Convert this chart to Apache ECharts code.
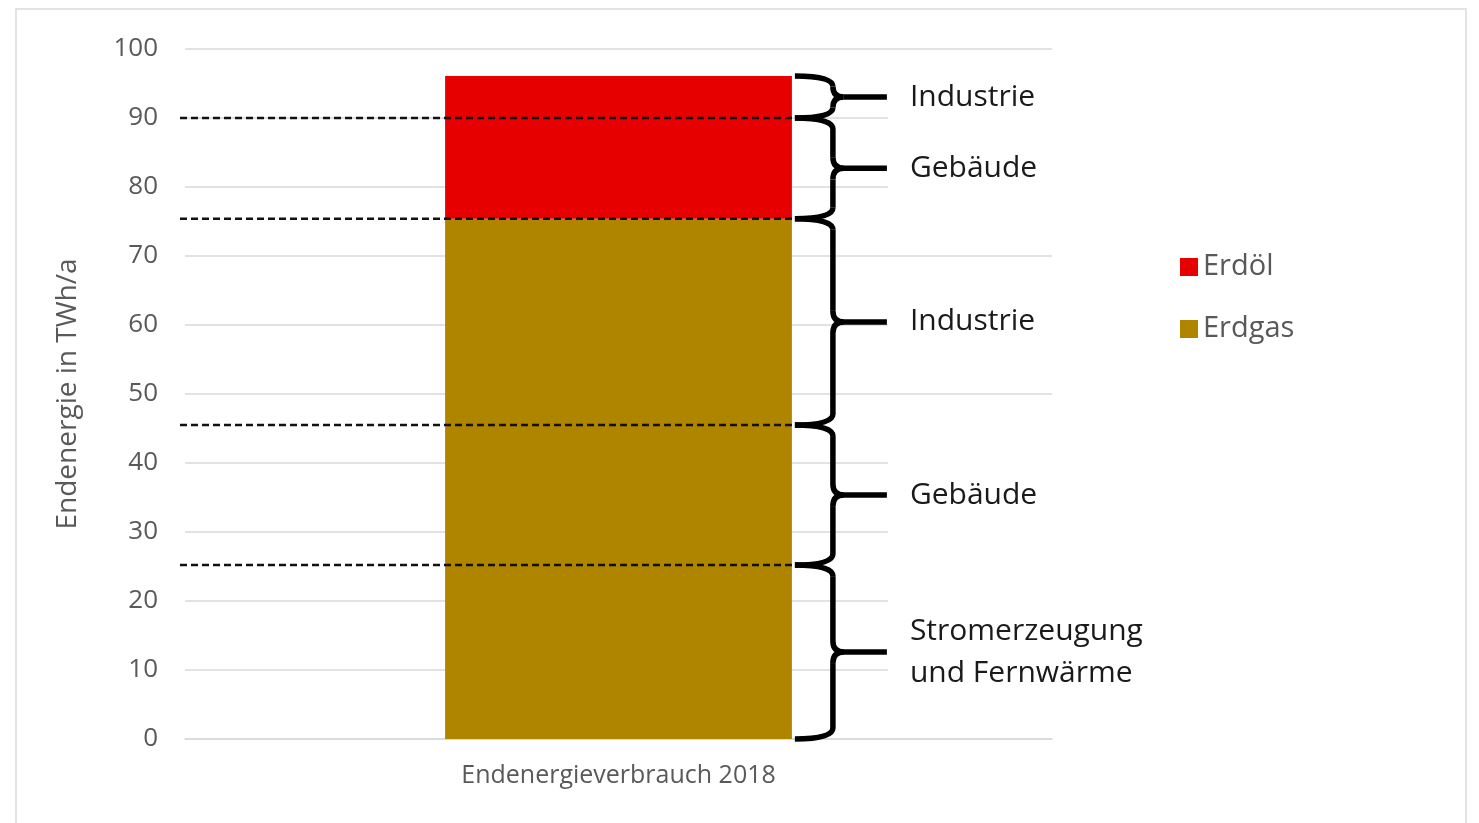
<!DOCTYPE html>
<html>
<head>
<meta charset="utf-8">
<script src="https://cdn.jsdelivr.net/npm/echarts@6/dist/echarts.min.js"></script>
<style>
  html, body { margin: 0; padding: 0; background: #fff; }
  #chart { width: 1479px; height: 823px; }
  #frame { position: absolute; left: 15px; top: 8px; width: 1448px; height: 840px;
           border: 2px solid #e3e3e3; pointer-events: none; }
</style>
</head>
<body>
<div id="chart"></div>
<div id="frame"></div>
<script>
// data
const categories = ['Endenergieverbrauch 2018'];
const erdgas = [75.4];
const erdoel = [20.7];
const dividers = [90, 75.4, 45.5, 25.2];
const sectorBounds = [[90, 96.1], [75.4, 90], [45.5, 75.4], [25.2, 45.5], [0, 25.2]];
const sectorLabels = ['Industrie', 'Gebäude', 'Industrie', 'Gebäude', 'Stromerzeugung\nund Fernwärme'];

const FONT = '"Open Sans"';
const BAR_FRAC = 0.4;

const chart = echarts.init(document.getElementById('chart'), null, { renderer: 'canvas' });

function barRight(api, cx) {
  return cx + api.size([1, 0])[0] * BAR_FRAC / 2;
}

// dashed separators from the axis to the bar's right edge
function renderDivider(params, api) {
  const p = api.coord([api.value(0), api.value(1)]);
  const x1 = params.coordSys.x - 5;
  const x2 = barRight(api, p[0]);
  return {
    type: 'line',
    shape: { x1: x1, y1: p[1], x2: x2, y2: p[1] },
    style: { stroke: '#111', lineWidth: 2.5, lineDash: [7, 4] }
  };
}

// curly braces with labels
function renderBrace(params, api) {
  const lo = api.coord([api.value(0), api.value(1)]);
  const hi = api.coord([api.value(0), api.value(2)]);
  const xb = barRight(api, lo[0]) + 3;
  const xv = xb + 38;
  const xt = xb + 92;
  const yT = hi[1], yB = lo[1], ym = (yT + yB) / 2;
  const r = Math.min(11, (yB - yT) / 4);
  const st = { stroke: '#000', lineWidth: 5.5, fill: null };
  const label = sectorLabels[params.dataIndex];
  return {
    type: 'group',
    children: [
      { type: 'bezierCurve', shape: { x1: xb, y1: yT, cpx1: xv, cpy1: yT, x2: xv, y2: yT + r }, style: st },
      { type: 'line', shape: { x1: xv, y1: yT + r, x2: xv, y2: ym - r }, style: st },
      { type: 'bezierCurve', shape: { x1: xv, y1: ym - r, cpx1: xv, cpy1: ym, x2: xv + r, y2: ym }, style: st },
      { type: 'bezierCurve', shape: { x1: xv + r, y1: ym, cpx1: xv, cpy1: ym, x2: xv, y2: ym + r }, style: st },
      { type: 'line', shape: { x1: xv, y1: ym + r, x2: xv, y2: yB - r }, style: st },
      { type: 'bezierCurve', shape: { x1: xv, y1: yB - r, cpx1: xv, cpy1: yB, x2: xb, y2: yB }, style: st },
      { type: 'line', shape: { x1: xv + r, y1: ym, x2: xt, y2: ym }, style: st },
      {
        type: 'text',
        x: xt + 1, y: ym,
        style: {
          text: label, fill: '#1a1a1a', font: '30px ' + FONT,
          textAlign: 'left', textVerticalAlign: 'middle', lineHeight: 42,
          backgroundColor: '#fff', padding: [22, 24, 22, 22]
        }
      }
    ]
  };
}

const option = {
  animation: false,
  backgroundColor: '#fff',
  textStyle: { fontFamily: FONT },
  grid: { left: 185, right: 427, top: 49, bottom: 84 },
  legend: {
    data: ['Erdöl', 'Erdgas'],
    orient: 'vertical',
    left: 1175, top: 245,
    icon: 'rect', itemWidth: 18, itemHeight: 18, itemGap: 28,
    textStyle: { fontSize: 29, color: '#595959', fontFamily: FONT, lineHeight: 34 }
  },
  xAxis: {
    type: 'category',
    data: categories,
    axisLine: { show: true, lineStyle: { color: '#d9d9d9', width: 1.5 } },
    axisTick: { show: false },
    axisLabel: { color: '#595959', fontSize: 25, margin: 24, fontFamily: FONT }
  },
  yAxis: {
    type: 'value',
    min: 0, max: 100, interval: 10,
    name: 'Endenergie in TWh/a',
    nameLocation: 'middle', nameRotate: 90, nameGap: 103,
    nameTextStyle: { color: '#595959', fontSize: 28, fontFamily: FONT },
    axisLine: { show: false },
    axisTick: { show: false },
    axisLabel: { color: '#595959', fontSize: 26, margin: 27, fontFamily: FONT },
    splitLine: { lineStyle: { color: '#d9d9d9', width: 1.5 } }
  },
  series: [
    {
      name: 'Erdgas', type: 'bar', stack: 'total',
      barWidth: (BAR_FRAC * 100) + '%',
      itemStyle: { color: '#af8500' },
      data: erdgas
    },
    {
      name: 'Erdöl', type: 'bar', stack: 'total',
      barWidth: (BAR_FRAC * 100) + '%',
      itemStyle: { color: '#e60000' },
      data: erdoel
    },
    {
      name: 'dividers', type: 'custom', z: 5, silent: true,
      renderItem: renderDivider,
      encode: { x: 0, y: 1 },
      data: dividers.map(v => [0, v])
    },
    {
      name: 'braces', type: 'custom', z: 5, silent: true,
      renderItem: renderBrace,
      encode: { x: 0, y: [1, 2] },
      data: sectorBounds.map(b => [0, b[0], b[1]])
    }
  ]
};

chart.setOption(option);
</script>
</body>
</html>
